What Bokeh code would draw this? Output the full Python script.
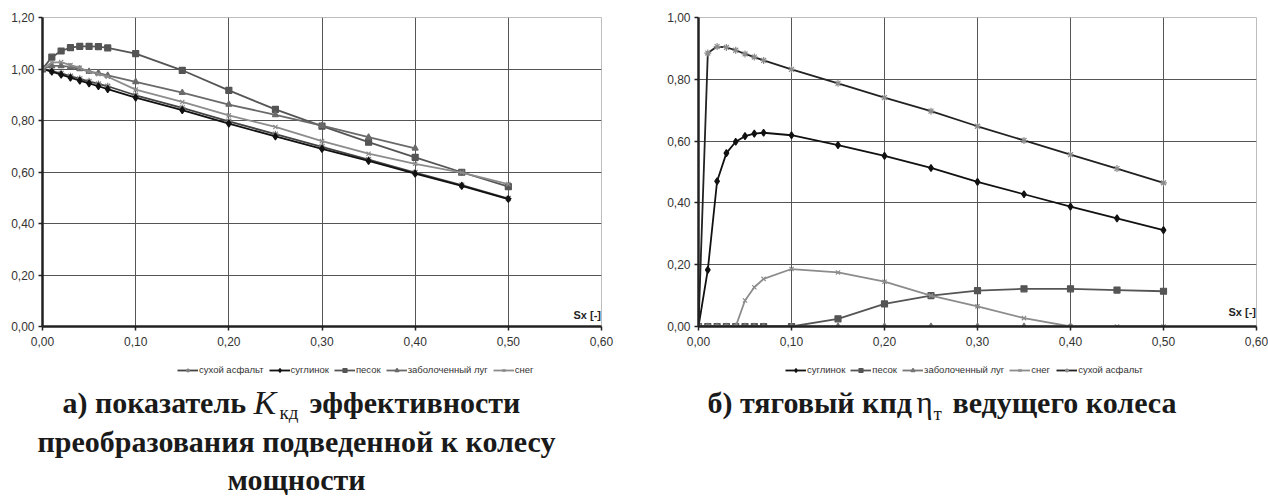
from bokeh.plotting import figure
from bokeh.layouts import row, column
from bokeh.models import (Range1d, FixedTicker, CustomJSTickFormatter, Label,
                          Legend, LegendItem)
from bokeh.embed import file_html
from bokeh.resources import INLINE

# ---------------- data: left chart (K_кд) ----------------
sx_left = [0, 0.01, 0.02, 0.03, 0.04, 0.05, 0.06, 0.07, 0.10, 0.15, 0.20,
           0.25, 0.30, 0.35, 0.40, 0.45, 0.50]
k_asphalt = [1.00, 0.992, 0.983, 0.972, 0.962, 0.952, 0.942, 0.933, 0.898,
             0.849, 0.797, 0.747, 0.698, 0.648, 0.598, 0.549, 0.497]
k_loam = [1.00, 0.990, 0.978, 0.966, 0.955, 0.944, 0.933, 0.922, 0.889,
          0.840, 0.788, 0.738, 0.690, 0.643, 0.594, 0.546, 0.495]
k_sand = [1.00, 1.046, 1.070, 1.083, 1.088, 1.088, 1.087, 1.082, 1.060,
          0.995, 0.917, 0.843, 0.778, 0.716, 0.657, 0.599, 0.543]
sx_left_meadow = [0, 0.01, 0.02, 0.03, 0.04, 0.05, 0.06, 0.07, 0.10, 0.15,
                  0.20, 0.25, 0.30, 0.35, 0.40]
k_meadow = [1.00, 1.012, 1.012, 1.008, 1.000, 0.990, 0.984, 0.975, 0.950,
            0.908, 0.862, 0.822, 0.780, 0.735, 0.692]
k_snow = [1.00, 1.025, 1.027, 1.015, 1.005, 0.990, 0.980, 0.970, 0.920,
          0.872, 0.820, 0.775, 0.720, 0.671, 0.632, 0.598, 0.553]

# ---------------- data: right chart (η_т) ----------------
sx_right = [0, 0.01, 0.02, 0.03, 0.04, 0.05, 0.06, 0.07, 0.10, 0.15, 0.20,
            0.25, 0.30, 0.35, 0.40, 0.45, 0.50]
eta_loam = [0.0, 0.183, 0.470, 0.561, 0.598, 0.616, 0.624, 0.627, 0.619,
            0.587, 0.552, 0.513, 0.468, 0.428, 0.388, 0.350, 0.312]
eta_sand = [0, 0, 0, 0, 0, 0, 0, 0, 0, 0.025, 0.073, 0.100, 0.116, 0.122,
            0.122, 0.118, 0.114]
sx_right_meadow = [0, 0.01, 0.02, 0.03, 0.04, 0.05, 0.06, 0.07, 0.10, 0.15,
                   0.20, 0.25, 0.30, 0.35, 0.40]
eta_meadow = [0, 0, 0, 0, 0, 0, 0, 0, 0, 0, 0, 0, 0, 0, 0]
eta_snow = [0, 0, 0, 0, 0, 0.084, 0.127, 0.154, 0.186, 0.175, 0.145, 0.100,
            0.065, 0.027, 0.0, 0.0, 0.0]
eta_asphalt = [0.0, 0.885, 0.906, 0.903, 0.894, 0.882, 0.872, 0.861, 0.832,
               0.787, 0.741, 0.697, 0.648, 0.602, 0.556, 0.511, 0.465]

x_ticks = [0, 0.1, 0.2, 0.3, 0.4, 0.5, 0.6]
y_ticks_left = [0, 0.2, 0.4, 0.6, 0.8, 1.0, 1.2]
y_ticks_right = [0, 0.2, 0.4, 0.6, 0.8, 1.0]

label_asphalt = "сухой асфальт"
label_loam = "суглинок"
label_sand = "песок"
label_meadow = "заболоченный луг"
label_snow = "снег"

SANS = "Liberation Sans"
SERIF = "Liberation Serif"
INK = "#1a1a1a"

# series styles: (line colour, marker, marker colour, size, filled)
ST_ASPH_L = ("#444444", "asterisk", "#808080", 7, False)
ST_ASPH_R = ("#222222", "asterisk", "#8c8c8c", 7, False)
ST_LOAM = ("#111111", "diamond", "#111111", 7, True)
ST_SAND = ("#555555", "square", "#555555", 6, True)
ST_MEAD_L = ("#6a6a6a", "triangle", "#6a6a6a", 6, True)
ST_MEAD_R = ("#777777", "triangle", "#777777", 6, True)
ST_SNOW = ("#8c8c8c", "x", "#8c8c8c", 6, False)

CHART_H = 351
PAGE_W = 1268
PAGE_H = 503


def make_fig(width, ymax, yticks, left, right, top, frame_h):
    p = figure(width=width, height=CHART_H, output_backend="svg",
               toolbar_location=None, x_range=Range1d(0, 0.6),
               y_range=Range1d(0, ymax), min_border_left=left,
               min_border_right=right, min_border_top=top,
               min_border_bottom=CHART_H - top - frame_h)
    p.outline_line_color = "#bdbdbd"
    p.outline_line_width = 1
    p.background_fill_color = "white"
    p.border_fill_color = "white"
    for ax in (p.xaxis[0], p.yaxis[0]):
        ax.axis_line_color = "#222222"
        ax.axis_line_width = 2.5
        ax.major_tick_line_color = "#222222"
        ax.major_tick_line_width = 1.5
        ax.major_tick_out = 4
        ax.major_tick_in = 0
        ax.minor_tick_line_color = None
        ax.major_label_text_font = SANS
        ax.major_label_text_font_size = "12px"
        ax.major_label_text_color = "#333333"
        ax.formatter = CustomJSTickFormatter(
            code="return tick.toFixed(2).replace('.', ',');")
    p.xaxis[0].ticker = FixedTicker(ticks=x_ticks)
    p.yaxis[0].ticker = FixedTicker(ticks=yticks)
    p.xaxis[0].major_label_standoff = 6
    p.yaxis[0].major_label_standoff = 4
    p.xgrid.ticker = FixedTicker(ticks=x_ticks)
    p.ygrid.ticker = FixedTicker(ticks=yticks)
    for g in (p.xgrid[0], p.ygrid[0]):
        g.grid_line_color = "#555555"
        g.grid_line_width = 1
    return p


def series(p, xs, ys, st, lw=1.8):
    line_color, marker, m_color, size, fill = st
    ln = p.line(xs, ys, line_color=line_color, line_width=lw)
    sc = p.scatter(xs, ys, marker=marker, size=size, line_color=m_color,
                   fill_color=m_color if fill else None, line_width=1.2)
    return [ln, sc]


# ---------------- left chart: frame x 42..601, y 17..326 ----------------
p1 = make_fig(648, 1.2, y_ticks_left, 42, 47, 17, 309)
series(p1, sx_left, k_asphalt, ST_ASPH_L)
series(p1, sx_left, k_loam, ST_LOAM)
series(p1, sx_left, k_sand, ST_SAND)
series(p1, sx_left_meadow, k_meadow, ST_MEAD_L)
series(p1, sx_left, k_snow, ST_SNOW)
p1.add_layout(Label(x=0.5995, y=0.046, text="Sx [-]", text_font=SANS,
                    text_font_size="11px", text_font_style="bold",
                    text_color="#222222", text_align="right",
                    text_baseline="middle"))

# ---------------- right chart: frame x 698..1256, y 16..326 ----------------
p2 = make_fig(620, 1.0, y_ticks_right, 50, 12, 16, 310)
series(p2, sx_right, eta_loam, ST_LOAM)
series(p2, sx_right, eta_sand, ST_SAND)
series(p2, sx_right_meadow, eta_meadow, ST_MEAD_R)
series(p2, sx_right, eta_snow, ST_SNOW)
series(p2, sx_right, eta_asphalt, ST_ASPH_R)
p2.add_layout(Label(x=0.5995, y=0.048, text="Sx [-]", text_font=SANS,
                    text_font_size="11px", text_font_style="bold",
                    text_color="#222222", text_align="right",
                    text_baseline="middle"))

# ---------------- captions & legends (page-pixel coordinates) ----------------
TXT_H = PAGE_H - CHART_H
t = figure(width=PAGE_W, height=TXT_H, output_backend="svg",
           toolbar_location=None, x_range=Range1d(0, PAGE_W),
           y_range=Range1d(PAGE_H, CHART_H), min_border=0,
           x_axis_type=None, y_axis_type=None)
t.grid.visible = False
t.outline_line_color = None
t.background_fill_color = "white"
t.border_fill_color = "white"


def legend_proxy(xs, ys, st):
    # the series again, in the caption strip; they fall outside its ranges
    # and only lend their styles to the legend entries
    line_color, marker, m_color, size, fill = st
    ln = t.line(xs, ys, line_color=line_color, line_width=1.8)
    sc = t.scatter(xs, ys, marker=marker, size=size, line_color=m_color,
                   fill_color=m_color if fill else None, line_width=1.2)
    return [ln, sc]


def legend(items, loc):
    lg = Legend(items=[LegendItem(label=l, renderers=r) for l, r in items],
                orientation="horizontal", location=loc,
                label_text_font=SANS, label_text_font_size="9.5px",
                label_text_color="#333333", glyph_width=21, glyph_height=10,
                label_height=10, label_standoff=1, spacing=5, padding=0,
                margin=0, border_line_color=None, background_fill_alpha=0)
    t.add_layout(lg)


LEG_BOTTOM = 375
legend([(label_asphalt, legend_proxy(sx_left, k_asphalt, ST_ASPH_L)),
        (label_loam, legend_proxy(sx_left, k_loam, ST_LOAM)),
        (label_sand, legend_proxy(sx_left, k_sand, ST_SAND)),
        (label_meadow, legend_proxy(sx_left_meadow, k_meadow, ST_MEAD_L)),
        (label_snow, legend_proxy(sx_left, k_snow, ST_SNOW))],
       (177, PAGE_H - LEG_BOTTOM))
legend([(label_loam, legend_proxy(sx_right, eta_loam, ST_LOAM)),
        (label_sand, legend_proxy(sx_right, eta_sand, ST_SAND)),
        (label_meadow, legend_proxy(sx_right_meadow, eta_meadow, ST_MEAD_R)),
        (label_snow, legend_proxy(sx_right, eta_snow, ST_SNOW)),
        (label_asphalt, legend_proxy(sx_right, eta_asphalt, ST_ASPH_R))],
       (785, PAGE_H - LEG_BOTTOM))


def cap(x, y, text, size="30px", style="bold", align="left"):
    t.add_layout(Label(x=x, y=y, text=text, text_font=SERIF,
                       text_font_size=size, text_font_style=style,
                       text_color=INK, text_align=align,
                       text_baseline="alphabetic"))


cap(62, 402, "а) показатель")
cap(253, 402, "K", size="34px", style="italic")
cap(279, 412, "кд", size="19px", style="normal")
cap(309, 402, "эффективности")
cap(296, 441, "преобразования подведенной к колесу", align="center")
cap(296, 479, "мощности", align="center")

cap(707, 402, "б) тяговый кпд")
cap(916, 402, "η", size="31px", style="normal")
cap(933, 413, "т", size="19px", style="normal")
cap(952, 402, "ведущего колеса")

layout = column(row(p1, p2), t)
open("out.html", "w").write(file_html(layout, INLINE))
